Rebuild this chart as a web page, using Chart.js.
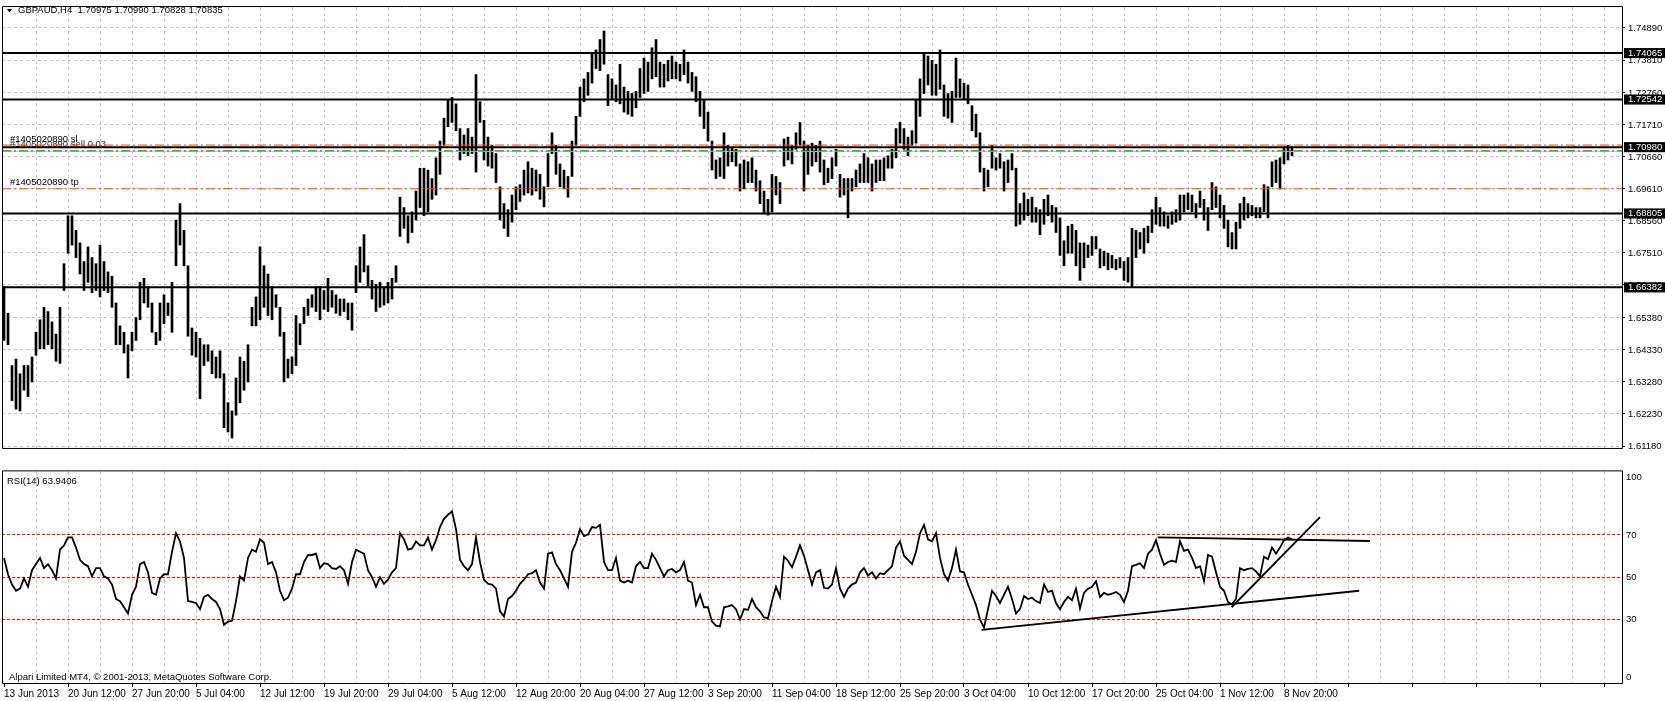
<!DOCTYPE html>
<html><head><meta charset="utf-8"><title>GBPAUD,H4</title>
<script src="https://cdn.jsdelivr.net/npm/chart.js@4.4.1/dist/chart.umd.min.js"></script>
<style>
html,body{margin:0;padding:0;background:#fff;width:1665px;height:701px;overflow:hidden}
canvas{position:absolute;left:0;display:block}
#main{top:0}
#rsi{top:456px}
</style></head><body>
<canvas id="main" width="1665" height="456"></canvas>
<canvas id="rsi" width="1665" height="245"></canvas>
<script>
const timeLabels = ['13 Jun 2013','20 Jun 12:00','27 Jun 20:00','5 Jul 04:00','12 Jul 12:00','19 Jul 20:00','29 Jul 04:00','5 Aug 12:00','12 Aug 20:00','20 Aug 04:00','27 Aug 12:00','3 Sep 20:00','11 Sep 04:00','18 Sep 12:00','25 Sep 20:00','3 Oct 04:00','10 Oct 12:00','17 Oct 20:00','25 Oct 04:00','1 Nov 12:00','8 Nov 20:00'];
const priceTicks = [1.74890,1.73810,1.72760,1.71710,1.70660,1.69610,1.68560,1.67510,1.66460,1.65380,1.64330,1.63280,1.62230,1.61180];
const levelLines = [1.74065,1.72542,1.70980,1.68805,1.66382];
const slPrice = 1.7105, tpPrice = 1.69615, openPrice = 1.7086, bidPrice = 1.70835;
const headerText = 'GBPAUD,H4  1.70975 1.70990 1.70828 1.70835';
const rsiTicks = [100,70,50,30,0];
const rsiLevels = [70,50,30];
const rsiTrendLines = [[[244.4,25.1],[338.8,43.6]],[[288.4,68.8],[341.5,67.1]],[[306.9,35.8],[329,78.4]]];

const highs = [
1.6641,1.6553,1.6382,1.6403,1.6355,1.6382,1.6382,1.6410,1.6491,1.6532,
1.6573,1.6559,1.6525,1.6485,1.6573,1.6716,1.6873,1.6873,1.6825,1.6784,
1.6723,1.6771,1.6736,1.6716,1.6777,1.6723,1.6689,1.6675,1.6587,1.6512,
1.6491,1.6450,1.6491,1.6539,1.6655,1.6668,1.6641,1.6587,1.6491,1.6587,
1.6614,1.6587,1.6655,1.6859,1.6913,1.6825,1.6709,1.6505,1.6491,1.6471,
1.6450,1.6450,1.6430,1.6410,1.6430,1.6355,1.6260,1.6233,1.6341,1.6410,
1.6396,1.6450,1.6573,1.6607,1.6771,1.6709,1.6682,1.6641,1.6614,1.6573,
1.6491,1.6403,1.6410,1.6546,1.6519,1.6573,1.6600,1.6614,1.6641,1.6641,
1.6628,1.6668,1.6628,1.6614,1.6600,1.6600,1.6587,1.6587,1.6709,1.6771,
1.6811,1.6709,1.6661,1.6648,1.6655,1.6641,1.6655,1.6668,1.6709,1.6934,
1.6900,1.6873,1.6886,1.6954,1.7029,1.7029,1.7023,1.6995,
1.7063,1.7118,1.7193,1.7254,1.7261,1.7240,1.7159,1.7138,1.7159,1.7131,
1.7336,1.7247,1.7186,1.7131,1.7104,1.7077,1.6968,1.6913,1.6893,1.6941,
1.6968,1.6975,1.7023,1.7050,1.7029,1.7023,1.7009,1.6968,1.7077,1.7145,
1.7104,1.7043,1.7023,1.7002,1.7118,1.7199,1.7295,1.7322,1.7343,1.7404,
1.7417,1.7451,1.7479,1.7336,1.7322,1.7302,1.7370,1.7295,1.7281,1.7274,
1.7281,1.7356,1.7390,1.7377,1.7424,1.7451,1.7377,1.7370,1.7383,1.7397,
1.7377,1.7370,1.7417,1.7377,1.7343,1.7329,1.7281,1.7254,1.7213,1.7118,
1.7056,1.7063,1.7145,1.7104,1.7097,1.7091,1.7043,1.7056,1.7050,1.7063,
1.7023,1.6988,1.6954,1.6927,1.7009,1.7002,1.6982,1.7125,1.7131,1.7104,
1.7145,1.7179,1.7118,1.7104,1.7111,1.7104,1.7118,1.7056,1.7029,1.7063,
1.7091,1.7009,1.6995,1.6995,1.6995,1.7023,1.7043,1.7077,
1.7063,1.7043,1.7056,1.7056,1.7063,1.7070,1.7091,1.7159,1.7179,1.7159,
1.7131,1.7152,1.7254,1.7322,1.7404,1.7397,1.7383,1.7370,1.7417,1.7302,
1.7274,1.7281,1.7390,1.7322,1.7308,1.7302,1.7234,1.7206,1.7145,1.7029,
1.7023,1.7104,1.7063,1.7077,1.7050,1.7056,1.7077,1.7029,1.6913,1.6948,
1.6927,1.6934,1.6900,1.6893,1.6927,1.6941,1.6907,1.6900,1.6866,1.6791,
1.6839,1.6845,1.6825,1.6784,1.6784,1.6777,1.6805,1.6805,1.6764,1.6757,
1.6750,1.6743,1.6730,1.6736,1.6723,1.6736,1.6832,1.6825,1.6818,1.6832,
1.6839,1.6893,1.6934,1.6900,1.6886,1.6873,1.6886,1.6893,1.6941,1.6941,
1.6948,1.6941,1.6913,1.6954,1.6927,1.6900,1.6982,1.6968,1.6941,1.6907,
1.6859,1.6818,1.6852,1.6913,1.6934,1.6913,1.6907,1.6900,1.6900,1.6975,
1.6968,1.7050,1.7056,1.7063,1.7097,1.7104,1.7099];

const lows = [
1.6464,1.6450,1.6267,1.6239,1.6233,1.6301,1.6280,1.6328,1.6416,1.6437,
1.6437,1.6450,1.6437,1.6396,1.6389,1.6628,1.6750,1.6777,1.6736,1.6682,
1.6628,1.6655,1.6621,1.6628,1.6607,1.6628,1.6621,1.6573,1.6450,1.6450,
1.6423,1.6341,1.6430,1.6464,1.6532,1.6587,1.6573,1.6491,1.6450,1.6464,
1.6519,1.6546,1.6491,1.6709,1.6777,1.6709,1.6478,1.6416,1.6410,1.6273,
1.6382,1.6396,1.6355,1.6341,1.6341,1.6178,1.6164,1.6144,1.6219,1.6260,
1.6301,1.6328,1.6512,1.6512,1.6532,1.6573,1.6546,1.6532,1.6573,1.6478,
1.6328,1.6341,1.6355,1.6382,1.6450,1.6519,1.6546,1.6573,1.6559,1.6532,
1.6566,1.6559,1.6573,1.6553,1.6546,1.6559,1.6532,1.6498,1.6621,1.6655,
1.6689,1.6641,1.6600,1.6559,1.6573,1.6580,1.6587,1.6600,1.6655,1.6805,
1.6832,1.6784,1.6818,1.6859,1.6900,1.6873,1.6886,1.6927,
1.6941,1.7009,1.7104,1.7165,1.7179,1.7152,1.7056,1.7077,1.7070,1.7077,
1.7016,1.7179,1.7056,1.7036,1.7029,1.6982,1.6859,1.6832,1.6805,1.6852,
1.6893,1.6920,1.6941,1.6948,1.6941,1.6954,1.6927,1.6902,1.6968,1.7077,
1.7009,1.6968,1.6961,1.6934,1.7002,1.7104,1.7199,1.7247,1.7268,1.7308,
1.7356,1.7349,1.7370,1.7234,1.7254,1.7247,1.7240,1.7213,1.7206,1.7199,
1.7227,1.7261,1.7274,1.7281,1.7322,1.7329,1.7295,1.7295,1.7315,1.7322,
1.7322,1.7315,1.7336,1.7308,1.7281,1.7247,1.7199,1.7159,1.7118,1.7023,
1.6995,1.7002,1.6995,1.7036,1.7050,1.7036,1.6954,1.6961,1.6982,1.6982,
1.6954,1.6913,1.6879,1.6875,1.6886,1.6941,1.6913,1.7036,1.7056,1.7043,
1.7091,1.7104,1.6954,1.7009,1.7036,1.7050,1.7016,1.6975,1.6982,1.6995,
1.7036,1.6934,1.6941,1.6866,1.6954,1.6968,1.6982,1.6982,
1.6982,1.6954,1.6982,1.6988,1.6988,1.7029,1.7029,1.7063,1.7111,1.7091,
1.7070,1.7104,1.7111,1.7199,1.7274,1.7302,1.7268,1.7268,1.7288,1.7199,
1.7193,1.7179,1.7261,1.7261,1.7254,1.7240,1.7152,1.7131,1.7016,1.6954,
1.6968,1.7029,1.7023,1.7029,1.6954,1.6982,1.7023,1.6839,1.6845,1.6859,
1.6873,1.6852,1.6852,1.6811,1.6845,1.6873,1.6852,1.6818,1.6743,1.6709,
1.6750,1.6750,1.6709,1.6661,1.6702,1.6736,1.6743,1.6764,1.6702,1.6709,
1.6696,1.6702,1.6696,1.6702,1.6661,1.6655,1.6641,1.6736,1.6764,1.6750,
1.6784,1.6818,1.6845,1.6839,1.6839,1.6832,1.6845,1.6852,1.6859,1.6886,
1.6893,1.6886,1.6866,1.6900,1.6859,1.6825,1.6893,1.6900,1.6866,1.6832,
1.6771,1.6764,1.6764,1.6832,1.6859,1.6866,1.6873,1.6866,1.6866,1.6886,
1.6866,1.6968,1.6982,1.6961,1.7043,1.7056,1.7070];

const rsiValues = [
59.1,51.4,46.5,43.6,44.6,49.4,45.5,53.3,56.2,59.1,
54.3,56.2,53.3,49.4,63.0,65.0,68.8,68.8,64.0,58.2,
56.2,55.2,50.4,54.3,54.3,50.4,49.4,46.5,39.7,38.7,
35.8,32.9,41.7,45.5,56.2,57.2,52.3,42.6,41.7,49.4,
51.4,51.4,62.0,70.8,66.9,59.1,38.7,38.3,37.8,34.9,
40.7,41.7,39.7,38.3,34.9,27.5,29.0,29.4,38.7,50.4,
48.4,59.1,63.0,62.0,67.9,66.3,56.2,57.2,52.3,43.6,
39.1,40.3,44.6,51.4,51.4,57.2,60.5,60.5,61.1,54.3,
56.6,56.2,54.3,53.9,55.2,53.3,46.9,57.2,63.0,62.0,
61.1,53.3,50.0,45.5,50.0,46.9,48.8,52.3,54.3,70.8,
67.9,63.0,63.6,66.9,65.0,65.0,68.8,63.0,
67.5,73.7,77.6,79.5,81.1,72.7,58.2,55.2,53.3,56.2,
68.8,57.2,48.8,46.9,46.5,44.6,33.9,31.4,39.7,41.1,
43.6,46.9,48.8,51.4,51.9,53.3,47.5,44.6,61.1,61.7,
56.2,53.3,49.4,45.5,62.0,66.3,72.7,69.4,70.2,73.7,
73.3,74.7,57.2,53.3,53.3,59.1,48.4,47.5,48.4,47.5,
55.2,57.2,54.3,54.3,61.1,58.2,54.3,50.4,53.3,53.9,
52.3,53.3,57.2,48.4,47.5,36.8,41.7,35.8,35.8,29.0,
27.1,26.7,35.8,36.2,36.8,34.9,30.0,34.9,34.5,39.7,
35.8,33.9,31.0,30.6,38.7,45.5,40.7,59.7,57.8,54.7,
59.7,65.0,60.1,53.3,46.5,52.3,53.3,45.0,44.6,46.5,
54.3,44.6,40.7,44.6,46.5,47.5,52.3,54.3,
50.8,52.3,49.4,51.9,51.4,53.3,55.2,64.0,66.9,60.1,
58.2,56.2,62.0,70.8,74.7,67.9,66.9,70.8,59.1,51.4,
48.4,54.3,63.0,52.7,52.3,46.5,41.7,36.8,30.0,26.1,
34.9,43.6,41.1,37.8,41.7,45.5,39.7,32.9,34.9,41.1,
39.7,40.3,38.7,37.8,46.5,43.0,43.6,37.8,34.9,38.3,
40.7,39.1,44.6,35.2,42.6,44.6,45.5,48.1,40.7,42.6,
41.7,42.2,43.0,41.7,38.3,43.6,55.2,55.8,56.6,54.3,
61.1,63.0,67.5,61.1,55.8,57.2,57.8,57.2,66.9,62.4,
63.0,59.1,54.3,55.2,48.1,60.5,59.7,52.3,45.5,43.6,
38.3,37.2,39.7,54.3,53.3,53.9,54.3,52.7,50.4,59.7,
58.5,64.0,61.1,64.0,67.5,68.8,67.9];

/* ---- layout constants (axis ranges) ---- */
const X_MIN = -0.5, X_MAX = 404.5;
const P_MIN = 1.61083, P_MAX = 1.75575;
const gridSteps = Array.from({length: 51}, (_, j) => j * 8);
const NONE = 'rgba(0,0,0,0)';
const FONT = "'Liberation Sans', Arial, sans-serif";
Chart.defaults.font.family = FONT;
Chart.defaults.color = '#000';

const tv = c => (c && c.tick) ? c.tick.value : null;
const isLevel = v => levelLines.includes(v);

function xAxis(showLabels) {
  return {
    type: 'linear', min: X_MIN, max: X_MAX, offset: false,
    afterBuildTicks: s => { s.ticks = gridSteps.map(v => ({value: v})); },
    afterFit: s => { s.height = showLabels ? 18 : 0; },
    grid: {
      offset: false, lineWidth: 1,
      color: c => (tv(c) === 0) ? NONE : '#c0c0c0',
      drawTicks: showLabels, tickLength: 4, tickWidth: 1,
      tickColor: c => (tv(c) !== null && tv(c) % 16 === 0) ? '#000' : NONE
    },
    border: {display: false, dash: [3, 3]},
    ticks: {
      display: showLabels, autoSkip: false, maxRotation: 0, minRotation: 0,
      align: 'start', padding: 1, font: {size: 10}, color: '#000',
      callback: v => (v % 16 === 0 && timeLabels[v / 16]) ? timeLabels[v / 16] : ''
    }
  };
}

function hLine(v, color, width, dash) {
  return {type: 'line', data: [{x: X_MIN, y: v}, {x: X_MAX, y: v}], borderColor: color,
    borderWidth: width, borderDash: dash || [], pointRadius: 0, order: 1};
}

const framePlugin = {
  id: 'frame',
  afterDraw(chart, args, opts) {
    const {ctx, chartArea: ca} = chart;
    ctx.save();
    ctx.strokeStyle = '#000'; ctx.lineWidth = 1;
    ctx.beginPath();
    const top = ca.top - 0.5, bot = opts.bottomOut ? ca.bottom + 0.5 : ca.bottom - 0.5;
    ctx.moveTo(ca.left + 0.5, top); ctx.lineTo(ca.right + 0.5, top);
    ctx.moveTo(ca.left + 0.5, top); ctx.lineTo(ca.left + 0.5, bot);
    ctx.moveTo(ca.right + 0.5, top); ctx.lineTo(ca.right + 0.5, bot);
    ctx.moveTo(ca.left + 0.5, bot); ctx.lineTo(ca.right + 0.5, bot);
    ctx.stroke();
    ctx.restore();
  }
};

const mainText = {
  id: 'mainText',
  beforeDatasetsDraw(chart) {
    const {ctx} = chart;
    const y = chart.scales.y.getPixelForValue(openPrice) - 6;
    ctx.save();
    ctx.font = '9.5px ' + FONT; ctx.fillStyle = '#333'; ctx.textBaseline = 'middle';
    ctx.fillText('#1405020890 sell 0.03', 10, y);
    ctx.restore();
  },
  afterDraw(chart) {
    const {ctx} = chart;
    const ys = chart.scales.y;
    ctx.save();
    ctx.fillStyle = '#000';
    ctx.beginPath(); ctx.moveTo(7, 9); ctx.lineTo(12, 9); ctx.lineTo(9.5, 12.5); ctx.closePath(); ctx.fill();
    ctx.font = '9.5px ' + FONT; ctx.textBaseline = 'middle';
    ctx.fillText(headerText, 18, 10.5);
    ctx.fillText('#1405020890 sl', 10, ys.getPixelForValue(slPrice) - 6);
    ctx.fillText('#1405020890 tp', 10, ys.getPixelForValue(tpPrice) - 6);
    ctx.restore();
  }
};

const rsiText = {
  id: 'rsiText',
  afterDraw(chart) {
    const {ctx, chartArea: ca} = chart;
    ctx.save();
    ctx.font = '9.5px ' + FONT; ctx.fillStyle = '#000'; ctx.textBaseline = 'middle';
    ctx.fillText('RSI(14) 63.9406', 7, ca.top + 10);
    ctx.fillText('Alpari Limited MT4, \u00a9 2001-2013, MetaQuotes Software Corp.', 9, ca.bottom - 6);
    ctx.restore();
  }
};

const common = {
  responsive: false, animation: false, devicePixelRatio: 1, events: [],
  plugins: {legend: {display: false}, tooltip: {enabled: false}, title: {display: false}}
};

/* ---- price chart ---- */
new Chart(document.getElementById('main'), {
  type: 'bar',
  data: {datasets: [
    ...levelLines.map(v => hLine(v, '#000', 2)),
    hLine(slPrice, '#ff4500', 1, [9, 3, 2, 3]),
    hLine(tpPrice, '#ff4500', 1, [9, 3, 2, 3]),
    hLine(openPrice, '#008000', 1, [9, 3, 2, 3]),
    hLine(bidPrice, '#c0c0c0', 1),
    {type: 'bar', data: highs.map((h, i) => ({x: i, y: [lows[i], h]})),
      backgroundColor: '#000', borderWidth: 0, barThickness: 2, grouped: false, order: 2}
  ]},
  options: Object.assign({}, common, {
    layout: {padding: {left: 2, top: 1, right: 0, bottom: 1}, autoPadding: false},
    plugins: Object.assign({}, common.plugins, {frame: {bottomOut: false}}),
    scales: {
      x: xAxis(false),
      y: {
        type: 'linear', position: 'right', min: P_MIN, max: P_MAX, beginAtZero: false,
        afterBuildTicks: s => { s.ticks = priceTicks.concat(levelLines).map(v => ({value: v})); },
        afterFit: s => { s.width = 43; },
        grid: {
          offset: false,
          color: c => (tv(c) !== null && isLevel(tv(c))) ? NONE : '#c0c0c0',
          drawTicks: true, tickLength: 3, tickWidth: 1,
          tickColor: c => (tv(c) !== null && isLevel(tv(c))) ? NONE : '#000'
        },
        border: {display: false, dash: [3, 3]},
        ticks: {
          autoSkip: false, padding: 3,
          font: {size: 9.5, lineHeight: 0.85},
          color: c => isLevel(tv(c)) ? '#fff' : '#000',
          showLabelBackdrop: c => isLevel(tv(c)),
          backdropColor: '#000',
          backdropPadding: {top: 1, bottom: 1, left: 4, right: 8},
          callback: v => v.toFixed(5)
        }
      }
    }
  }),
  plugins: [framePlugin, mainText]
});

/* ---- RSI chart ---- */
new Chart(document.getElementById('rsi'), {
  type: 'line',
  data: {datasets: [
    {data: rsiValues.map((v, i) => ({x: i, y: v})), borderColor: '#000', borderWidth: 1.8,
      pointRadius: 0, tension: 0},
    ...rsiTrendLines.map(seg => ({data: seg.map(p => ({x: p[0], y: p[1]})), borderColor: '#000',
      borderWidth: 1.8, pointRadius: 0}))
  ]},
  options: Object.assign({}, common, {
    layout: {padding: {left: 2, top: 1, right: 0, bottom: 0}, autoPadding: false},
    plugins: Object.assign({}, common.plugins, {frame: {bottomOut: true}}),
    scales: {
      x: xAxis(true),
      y: {
        type: 'linear', position: 'right', min: 0, max: 100,
        afterBuildTicks: s => { s.ticks = rsiTicks.map(v => ({value: v})); },
        afterFit: s => { s.width = 43; },
        grid: {
          offset: false, drawTicks: false,
          color: c => (tv(c) !== null && rsiLevels.includes(tv(c))) ? '#ff0000' : NONE
        },
        border: {display: false, dash: [3, 2]},
        ticks: {
          autoSkip: false, padding: 4, font: {size: 9.5},
          callback: v => v === 100 ? ['', '100'] : (v === 0 ? ['0', ''] : String(v))
        }
      }
    }
  }),
  plugins: [framePlugin, rsiText]
});
</script>
</body></html>
